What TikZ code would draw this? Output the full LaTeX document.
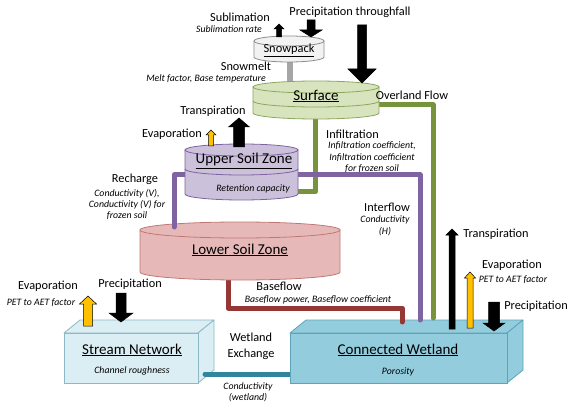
\documentclass[tikz,border=0pt]{standalone}
\usepackage{fontspec}
\setmainfont{Carlito}
\usetikzlibrary{calc}
\definecolor{snowfill}{HTML}{F2F2F2}\definecolor{snowdraw}{HTML}{8C8C8C}
\definecolor{surffill}{HTML}{D7E4BD}\definecolor{surfdraw}{HTML}{8EA760}
\definecolor{uszfill}{HTML}{CCC1DA}\definecolor{uszdraw}{HTML}{8064A2}
\definecolor{lszfill}{HTML}{E6B9B8}\definecolor{lszdraw}{HTML}{C07876}
\definecolor{strfill}{HTML}{DBEEF4}\definecolor{strdraw}{HTML}{8CB8C8}
\definecolor{wetfill}{HTML}{93CDDD}\definecolor{wetdraw}{HTML}{5FA3B9}
\definecolor{cgreen}{HTML}{77933C}\definecolor{cpurple}{HTML}{8064A2}
\definecolor{cred}{HTML}{953735}\definecolor{cteal}{HTML}{31859C}
\definecolor{cgray}{HTML}{A6A6A6}\definecolor{cyellow}{HTML}{FFC000}
% block arrow: fill, x, ybase, ytip, shaft hw, head hw, head length
\newcommand\barrow[7]{%
  \pgfmathsetmacro\yh{#4+#7*sign(#3-#4)}%
  \filldraw[fill=#1,draw=black,line width=0.5pt,line join=miter]
    (#2-#5,-#3) -- (#2-#5,-\yh) -- (#2-#6,-\yh) -- (#2,-#4) -- (#2+#6,-\yh)
    -- (#2+#5,-\yh) -- (#2+#5,-#3) -- cycle;}
% cylinder: cx, ytop, ybot, hw, ry, fill, draw
\newcommand\cyl[7]{%
  \filldraw[fill=#6,draw=#7,line width=0.8pt]
    (#1-#4,-#2) -- (#1-#4,-#3)
    arc[start angle=180,end angle=360,x radius=#4pt,y radius=#5pt]
    -- (#1+#4,-#2) -- cycle;
  \filldraw[fill=#6,draw=#7,line width=0.8pt] (#1,-#2) ellipse[x radius=#4pt,y radius=#5pt];}
\newcommand\cylmid[5]{%
  \draw[#5,line width=0.8pt] (#1-#3,-#2) arc[start angle=180,end angle=360,x radius=#3pt,y radius=#4pt];}
% cuboid: x1,y1,x2,y2,dx,dy,fill,draw
\newcommand\cuboid[8]{%
  \filldraw[fill=#7,draw=#8,line width=0.8pt,line join=round]
    (#1,-#2) -- (#1+#5,-#2+#6) -- (#3+#5,-#2+#6) -- (#3,-#2) -- cycle;
  \filldraw[fill=#7,draw=#8,line width=0.8pt,line join=round]
    (#3,-#2) -- (#3+#5,-#2+#6) -- (#3+#5,-#4+#6) -- (#3,-#4) -- cycle;
  \filldraw[fill=#7,draw=#8,line width=0.8pt] (#1,-#2) rectangle (#3,-#4);}
\begin{document}
\begin{tikzpicture}[x=1pt,y=1pt,
  lbl/.style={font=\fontsize{12.3}{14}\selectfont,inner sep=0pt},
  itl/.style={font=\fontsize{9.8}{11.4}\selectfont\itshape,inner sep=0pt,align=center},
  ttl/.style={font=\fontsize{15}{17}\selectfont,inner sep=0pt},
  flow/.style={line width=5pt,line cap=round,line join=round}]
\useasboundingbox (0,0) rectangle (576,-409);
\fill[white] (0,0) rectangle (576,-409);

% boxes
\cuboid{64}{333}{198}{383}{16}{13}{strfill}{strdraw}
\coordinate (exA) at (205,-374);
\coordinate (exB) at (292,-374);
\draw[flow,cteal] (exA) -- (exB);
\cuboid{290}{333}{507}{383}{16}{13}{wetfill}{wetdraw}

% baseflow
\coordinate (bfA) at (228,-272);
\coordinate (bfB) at (402,-322);
\draw[flow,cred] (bfA) |- (228,-308) -| (bfB);

% lower soil zone
\cyl{240}{230}{272}{100}{8}{lszfill}{lszdraw}

% overland, infiltration, interflow, recharge, snowmelt
\coordinate (ovA) at (375,-105);
\coordinate (ovB) at (433,-318);
\draw[flow,cgreen] (ovA) -| (ovB);
\coordinate (inA) at (315,-115);
\coordinate (inB) at (294,-192);
\draw[flow,cgreen] (inA) |- (inB);
\coordinate (ifA) at (294,-175);
\coordinate (ifB) at (420,-320);
\draw[flow,cpurple] (ifA) -| (ifB);
\coordinate (rcA) at (189,-175);
\coordinate (rcB) at (174,-227);
\draw[flow,cpurple] (rcA) -| (rcB);
\coordinate (smA) at (290,-58);
\coordinate (smB) at (290,-88);
\draw[line width=6pt,cgray] (smA) -- (smB);

% upper soil zone, surface, snowpack
\cyl{241.5}{150}{194}{56.5}{6}{uszfill}{uszdraw}
\cylmid{241.5}{169}{56.5}{6}{uszdraw}
\cyl{316}{87}{113}{63}{6}{surffill}{surfdraw}
\cylmid{316}{101}{63}{6}{surfdraw}
\cyl{289}{41}{57}{35}{5}{snowfill}{snowdraw}

% block arrows
\barrow{black}{279}{37}{24}{2.5}{5}{5}
\barrow{black}{311}{20}{37}{4}{11}{7}
\barrow{black}{362}{25}{83}{4.5}{14}{14}
\barrow{black}{239}{147}{118}{5.5}{10.5}{9}
\barrow{cyellow}{211}{146}{130}{2.5}{5}{5}
\barrow{cyellow}{88}{326}{296}{4.5}{8.5}{8}
\barrow{black}{121}{293}{322}{5}{12}{9}
\barrow{black}{452}{329}{229}{3}{6}{6}
\barrow{cyellow}{470}{328}{272}{3}{5.5}{6}
\barrow{black}{494}{302}{331}{5.5}{11}{8}

% texts
\node[lbl] (tPT) at (350,-12) {Precipitation throughfall};
\node[lbl] (tSub) at (240,-17.5) {Sublimation};
\node[itl] (tSubR) at (229,-29.5) {Sublimation rate};
\node[font=\fontsize{12.4}{14}\selectfont,inner sep=0pt] (tSnow) at (289,-50) {\underline{Snowpack}};
\node[lbl] (tSM) at (246,-66.5) {Snowmelt};
\node[itl] (tSMp) at (206,-78.5) {Melt factor, Base temperature};
\node[ttl] (tSurf) at (316,-96) {\underline{Surface}};
\node[lbl] (tOv) at (412,-95) {Overland Flow};
\node[lbl] (tTr1) at (213,-111) {Transpiration};
\node[lbl] (tEv1) at (172,-134) {Evaporation};
\node[ttl] (tUSZ) at (244,-161) {\underline{Upper Soil Zone}};
\node[itl] (tRet) at (253,-189) {Retention capacity};
\node[lbl,anchor=west] (tInf) at (326,-134) {Infiltration};
\node[itl] (tInfp) at (372,-157.5) {Infiltration coefficient,\\Infiltration coefficient\\for frozen soil};
\node[lbl] (tRc) at (135,-179) {Recharge};
\node[itl] (tRcp) at (127,-204.5) {Conductivity (V),\\Conductivity (V) for\\frozen soil};
\node[lbl] (tIf) at (387,-207) {Interflow};
\node[itl] (tIfp) at (385,-219.5) {Conductivity};
\node[itl] (tIfH) at (385,-232) {(H)};
\node[ttl] (tLSZ) at (240,-250) {\underline{Lower Soil Zone}};
\node[lbl] (tBf) at (279,-286.5) {Baseflow};
\node[itl] (tBfp) at (318,-299.5) {Baseflow power, Baseflow coefficient};
\node[lbl] (tEv2) at (48,-286) {Evaporation};
\node[itl] (tEv2p) at (41,-303) {PET to AET factor};
\node[lbl] (tPr2) at (130,-284) {Precipitation};
\node[ttl] (tSN) at (132,-350) {\underline{Stream Network}};
\node[itl] (tCR) at (132,-371) {Channel roughness};
\node[lbl,align=center,font=\fontsize{12.3}{16}\selectfont] (tWE) at (251,-346) {Wetland\\Exchange};
\node[itl] (tWEp) at (248,-392) {Conductivity\\(wetland)};
\node[ttl] (tCW) at (398,-350) {\underline{Connected Wetland}};
\node[itl] (tPor) at (398,-372) {Porosity};
\node[lbl] (tTr3) at (496,-234) {Transpiration};
\node[lbl] (tEv3) at (512,-265) {Evaporation};
\node[itl] (tEv3p) at (513,-279.5) {PET to AET factor};
\node[lbl] (tPr3) at (536,-306) {Precipitation};
\end{tikzpicture}
\end{document}
